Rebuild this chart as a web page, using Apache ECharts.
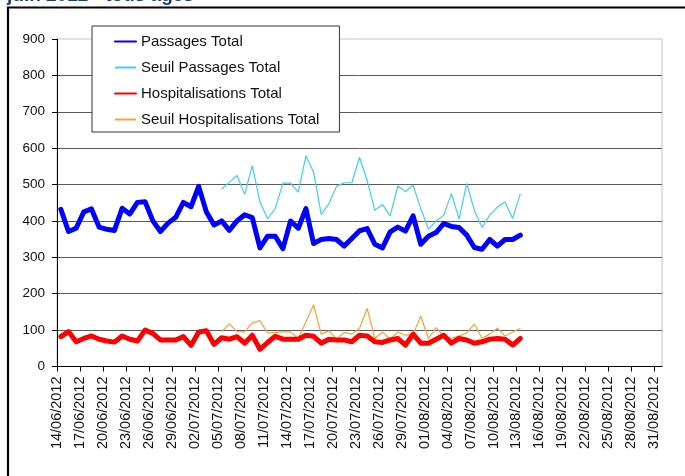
<!DOCTYPE html>
<html>
<head>
<meta charset="utf-8">
<script src="https://cdn.jsdelivr.net/npm/echarts@6/dist/echarts.min.js"></script>
<style>html,body{margin:0;padding:0;background:#fff;}#c{width:685px;height:476px;}</style>
</head>
<body>
<div id="c"></div>
<script>
// x-axis tick labels (every 3 days, 14/06/2012 .. 31/08/2012)
const tickLabels = ['14/06/2012','17/06/2012','20/06/2012','23/06/2012','26/06/2012','29/06/2012','02/07/2012','05/07/2012','08/07/2012','11/07/2012','14/07/2012','17/07/2012','20/07/2012','23/07/2012','26/07/2012','29/07/2012','01/08/2012','04/08/2012','07/08/2012','10/08/2012','13/08/2012','16/08/2012','19/08/2012','22/08/2012','25/08/2012','28/08/2012','31/08/2012'];
const axisDays = 79; // days shown on the axis: 14/06 .. 31/08
const yTicks = [0,100,200,300,400,500,600,700,800,900];

// daily values from 14/06/2012 to 13/08/2012 (61 days)
const passagesTotal = [432,371,380,425,433,383,377,374,435,419,451,453,401,371,394,410,451,439,495,425,389,400,374,400,417,409,326,358,358,324,400,380,434,338,349,352,349,331,352,373,379,336,326,370,383,372,414,336,358,368,393,385,382,361,327,322,349,331,349,349,361];
const seuilPassagesTotal = [null,null,null,null,null,null,null,null,null,null,null,null,null,null,null,null,null,null,null,null,null,488,506,525,473,552,452,406,434,504,504,479,579,534,418,447,495,505,505,575,511,429,445,414,496,481,498,434,377,400,416,475,405,503,429,382,416,438,452,407,475];
const hospitalisationsTotal = [82,96,68,77,84,75,70,67,84,75,70,100,91,73,73,73,82,58,95,98,61,79,75,82,64,86,47,66,83,75,75,75,86,83,64,75,73,73,68,86,84,68,66,73,77,59,89,64,64,75,86,64,77,73,64,68,75,77,75,59,77];
const seuilHospitalisationsTotal = [null,null,null,null,null,null,null,null,null,null,null,null,null,null,null,null,null,null,null,null,null,96,117,96,95,120,126,92,94,95,95,77,123,169,89,98,75,94,89,105,160,77,95,75,95,86,89,138,77,107,84,77,84,92,117,77,89,105,84,95,105];

const seriesNames = ['Passages Total','Seuil Passages Total','Hospitalisations Total','Seuil Hospitalisations Total'];
const titleText = 'juin 2012 - tous âges';

// each day is drawn in the middle of its day cell on the date axis
function toPoints(arr){ return arr.map((v,i)=>[i+0.5, v]); }
const tickValues = tickLabels.map((_,k)=>k*3);

const FONT = '"Liberation Sans", Arial, sans-serif';
const chart = echarts.init(document.getElementById('c'), null, {renderer:'canvas'});
chart.setOption({
  backgroundColor:'#ffffff',
  animation:false,
  graphic:[
    {type:'rect', shape:{x:8, y:7.5, width:720, height:520}, style:{fill:null, stroke:'#000', lineWidth:2.2}, z:-10, silent:true},
    {type:'text', x:7, y:5.5, style:{text:titleText, fill:'#1f3a78', font:'bold 19px '+FONT, textVerticalAlign:'bottom'}, z:10}
  ],
  grid:{left:57, right:23, top:39, bottom:109.5, show:true, borderColor:'#c4c4c4', borderWidth:1, backgroundColor:'transparent'},
  legend:{
    orient:'vertical', left:92, top:26,
    padding:[8,20,5,22], itemGap:11, itemWidth:21, itemHeight:14,
    backgroundColor:'#fff', borderColor:'#333', borderWidth:1, borderRadius:0,
    itemStyle:{opacity:0},
    textStyle:{fontFamily:FONT, fontSize:15, color:'#111'},
    data:seriesNames
  },
  xAxis:{
    type:'value', min:0, max:axisDays,
    splitLine:{show:false},
    axisLine:{onZero:false, lineStyle:{color:'#000', width:1}},
    axisTick:{show:true, length:5, lineStyle:{color:'#000'}, customValues:tickValues},
    axisLabel:{
      rotate:90, margin:10, fontFamily:FONT, fontSize:14.5, color:'#111',
      customValues:tickValues,
      formatter:function(v){ const k=Math.round(v/3); return tickLabels[k]||''; }
    }
  },
  yAxis:{
    type:'value', min:0, max:900, interval:100,
    axisLine:{show:true, lineStyle:{color:'#000', width:1}},
    axisTick:{show:true, length:5, lineStyle:{color:'#000'}},
    axisLabel:{margin:12, fontFamily:FONT, fontSize:13.5, color:'#111'},
    splitLine:{show:true, showMinLine:false, showMaxLine:false, lineStyle:{color:'#5a5a5a', width:1}}
  },
  series:[
    {name:seriesNames[0], type:'line', data:toPoints(passagesTotal), symbol:'none', color:'#0000ff', lineStyle:{width:5, color:'#0000ff', join:'round', cap:'round'}, z:4},
    {name:seriesNames[1], type:'line', data:toPoints(seuilPassagesTotal), symbol:'none', color:'#3ccfff', lineStyle:{width:1.2, color:'#3ccfff'}, z:3},
    {name:seriesNames[2], type:'line', data:toPoints(hospitalisationsTotal), symbol:'none', color:'#ff0000', lineStyle:{width:5, color:'#ff0000', join:'round', cap:'round'}, z:4},
    {name:seriesNames[3], type:'line', data:toPoints(seuilHospitalisationsTotal), symbol:'none', color:'#ffa033', lineStyle:{width:1.2, color:'#ffa033'}, z:3}
  ]
});
</script>
</body>
</html>
